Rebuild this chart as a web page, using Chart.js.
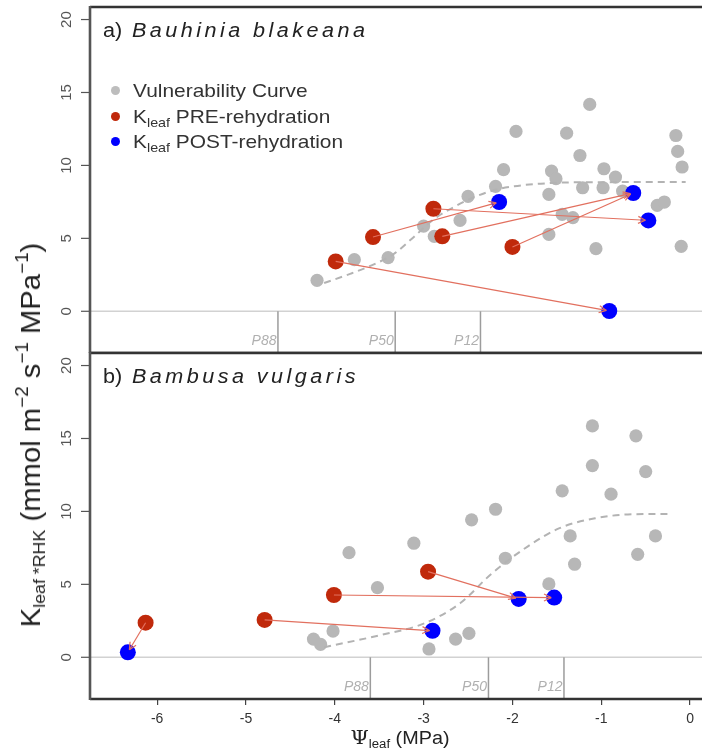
<!DOCTYPE html>
<html>
<head>
<meta charset="utf-8">
<script src="https://cdn.jsdelivr.net/npm/chart.js@4.4.1/dist/chart.umd.min.js"></script>
<style>
  body { margin: 0; background: #fff; }
  #wrap { position: relative; width: 702px; height: 753px; overflow: hidden;
          font-family: "Liberation Sans", Arial, sans-serif; color: #222; }
  canvas { position: absolute; left: 0; }
  #cA { top: 0; }
  #cB { top: 345px; }
  .lbl { position: absolute; white-space: nowrap; line-height: 1; }
  .ttl { font-size: 20px; transform: scaleX(1.08); transform-origin: left center; color: #222; }
  .ttl i { letter-spacing: 3.2px; margin-left: 9px; }
  .leg { font-size: 19px; left: 133px; transform: scaleX(1.1); transform-origin: left center; color: #333; }
  .leg sub { font-size: 13px; position: relative; top: 4px; vertical-align: baseline; }
  .dot { position: absolute; width: 9px; height: 9px; border-radius: 50%; left: 110.5px; }
  #ytitle { left: 31px; top: 435px; font-size: 28px; color: #222;
            transform: translate(-50%, -50%) rotate(-90deg) scaleX(1.045); }
  #ytitle sub { font-size: 17px; position: relative; top: 5px; vertical-align: baseline; }
  #ytitle sup { font-size: 18px; position: relative; top: -12px; vertical-align: baseline; }
  #xtitle { left: 400px; top: 737px; font-size: 18px; color: #222;
            transform: translate(-50%, -50%) scaleX(1.1); }
  #xtitle .psi { font-family: "DejaVu Serif", "Liberation Serif", serif; font-size: 19px; }
  #xtitle sub { font-size: 12px; position: relative; top: 4px; vertical-align: baseline; }
</style>
</head>
<body>
<div id="wrap">
  <canvas id="cA" width="702" height="353"></canvas>
  <canvas id="cB" width="702" height="408"></canvas>

  <div class="lbl ttl" style="left:103px; top:20px;">a)<i>Bauhinia blakeana</i></div>
  <div class="lbl ttl" style="left:103px; top:366px;">b)<i>Bambusa vulgaris</i></div>

  <span class="dot" style="top:85.5px; background:#bdbdbd;"></span>
  <span class="dot" style="top:111.5px; background:#c0290b;"></span>
  <span class="dot" style="top:136.5px; background:#0000ff;"></span>
  <div class="lbl leg" style="top:80.5px;">Vulnerability Curve</div>
  <div class="lbl leg" style="top:106.5px;">K<sub>leaf</sub> PRE-rehydration</div>
  <div class="lbl leg" style="top:131.5px;">K<sub>leaf</sub> POST-rehydration</div>

  <div class="lbl" id="ytitle">K<sub>leaf *RHK</sub> (mmol m<sup>−2</sup> s<sup>−1</sup> MPa<sup>−1</sup>)</div>
  <div class="lbl" id="xtitle"><span class="psi">Ψ</span><sub>leaf</sub> (MPa)</div>
</div>

<script>
// ======== DADOS ========
const xMin = -6.756, xMax = 0.134;
const yMin = -2.86, yMax = 20.86;
const xTicks = [-6, -5, -4, -3, -2, -1, 0];
const yTicks = [0, 5, 10, 15, 20];
const pNames = ['P88', 'P50', 'P12'];

// a) Bauhinia blakeana
const vcA_x = [-4.20, -3.78, -3.40, -3.00, -2.88, -2.59, -2.50, -2.19, -2.10, -1.96, -1.59, -1.56, -1.51, -1.59, -1.44, -1.32,
               -1.39, -1.24, -1.13, -1.21, -1.06, -0.98, -0.97, -0.84, -0.76, -0.37, -0.29, -0.16, -0.14, -0.09, -0.10];
const vcA_y = [2.12, 3.54, 3.68, 5.84, 5.14, 6.23, 7.88, 8.56, 9.71, 12.33, 8.01, 9.61, 9.09, 5.27, 6.64, 6.42,
               12.21, 10.68, 14.18, 8.47, 4.29, 8.47, 9.77, 9.20, 8.24, 7.26, 7.49, 12.05, 10.96, 9.89, 4.45];
const curveA_x = [-4.12, -3.82, -3.56, -3.34, -3.11, -2.89, -2.66, -2.44, -2.21, -1.98, -1.68, -1.30, -0.05];
const curveA_y = [1.94, 2.58, 3.22, 3.91, 5.10, 6.29, 7.14, 7.80, 8.30, 8.57, 8.75, 8.84, 8.86];
const preA_x = [-3.99, -3.57, -2.89, -2.79, -2.00];
const preA_y = [3.42, 5.09, 7.03, 5.14, 4.41];
const postA_x = [-2.15, -0.64, -0.47, -0.91];
const postA_y = [7.49, 8.11, 6.23, 0.02];
const fromA = [0, 1, 2, 3, 4];
const toA = [3, 0, 2, 1, 1];
const pA = [-4.64, -3.32, -2.36];

// b) Bambusa vulgaris
const vcB_x = [-4.24, -4.16, -4.02, -3.84, -3.52, -3.11, -2.94, -2.64, -2.49, -2.46, -2.19, -2.08, -1.59, -1.44, -1.35, -1.30,
               -1.10, -1.10, -0.89, -0.61, -0.50, -0.59, -0.39];
const vcB_y = [1.25, 0.89, 1.80, 7.17, 4.77, 7.82, 0.57, 1.25, 1.64, 9.42, 10.15, 6.79, 5.03, 11.41, 8.32, 6.38,
               15.86, 13.14, 11.18, 15.18, 12.73, 7.06, 8.32];
const curveB_x = [-4.12, -3.48, -2.99, -2.59, -2.23, -1.83, -1.47, -1.07, -0.63, -0.21];
const curveB_y = [0.69, 1.53, 2.33, 3.70, 5.76, 7.59, 8.85, 9.53, 9.81, 9.83];
const preB_x = [-6.13, -4.79, -4.01, -2.95];
const preB_y = [2.37, 2.56, 4.27, 5.87];
const postB_x = [-6.33, -2.90, -1.93, -1.53];
const postB_y = [0.34, 1.82, 4.00, 4.09];
const fromB = [0, 1, 2, 3];
const toB = [0, 1, 3, 2];
const pB = [-3.60, -2.27, -1.42];

const FONT = '"Liberation Sans", Arial, sans-serif';

function pts(xs, ys) {
  return xs.map((v, i) => ({ x: v, y: ys[i] }));
}

function line(ctx, x1, y1, x2, y2) {
  ctx.beginPath();
  ctx.moveTo(x1, y1);
  ctx.lineTo(x2, y2);
  ctx.stroke();
}

// ======== PLUGIN DO PAINEL ========
const panelPlugin = {
  id: 'panel',
  beforeDatasetsDraw(chart, args, o) {
    const { ctx, chartArea: a } = chart;
    const x = chart.scales.x, y = chart.scales.y;
    const y0 = y.getPixelForValue(0);
    ctx.save();
    ctx.strokeStyle = '#d2d2d2';
    ctx.lineWidth = 1.5;
    line(ctx, a.left, y0, a.right, y0);
    ctx.font = 'italic 14px ' + FONT;
    ctx.textAlign = 'right';
    ctx.fillStyle = '#b0b0b0';
    o.pVals.forEach((v, i) => {
      const px = x.getPixelForValue(v);
      ctx.strokeStyle = '#9c9c9c';
      ctx.lineWidth = 1.5;
      line(ctx, px, y0, px, a.bottom);
      ctx.fillText(pNames[i], px - 1.5, a.bottom - 8);
    });
    ctx.restore();
  },
  afterDatasetsDraw(chart, args, o) {
    const { ctx, chartArea: a } = chart;
    const x = chart.scales.x, y = chart.scales.y;
    ctx.save();
    // setas PRE -> POST
    ctx.strokeStyle = '#e2705f';
    ctx.lineWidth = 1.2;
    o.from.forEach((fi, k) => {
      const ti = o.to[k];
      const x1 = x.getPixelForValue(o.preX[fi]), y1 = y.getPixelForValue(o.preY[fi]);
      let x2 = x.getPixelForValue(o.postX[ti]), y2 = y.getPixelForValue(o.postY[ti]);
      const ang = Math.atan2(y2 - y1, x2 - x1);
      x2 -= 3 * Math.cos(ang);
      y2 -= 3 * Math.sin(ang);
      line(ctx, x1, y1, x2, y2);
      const h = 8, s = 0.45;
      line(ctx, x2, y2, x2 - h * Math.cos(ang - s), y2 - h * Math.sin(ang - s));
      line(ctx, x2, y2, x2 - h * Math.cos(ang + s), y2 - h * Math.sin(ang + s));
    });
    // moldura
    ctx.strokeStyle = '#333';
    ctx.lineWidth = 2.4;
    line(ctx, a.left, a.top, a.right, a.top);
    line(ctx, a.left, a.bottom, a.right, a.bottom);
    ctx.strokeStyle = '#555';
    ctx.lineWidth = 2.6;
    line(ctx, a.left, a.top - 1, a.left, a.bottom + 1);
    // ticks do eixo y (rotacionados, como no R)
    ctx.strokeStyle = '#555';
    ctx.lineWidth = 1.2;
    ctx.fillStyle = '#555';
    ctx.font = '15px ' + FONT;
    ctx.textAlign = 'center';
    ctx.textBaseline = 'middle';
    yTicks.forEach(v => {
      const py = y.getPixelForValue(v);
      line(ctx, a.left - 9, py, a.left, py);
      ctx.save();
      ctx.translate(67, py);
      ctx.rotate(-Math.PI / 2);
      ctx.fillText(String(v), 0, 0);
      ctx.restore();
    });
    ctx.restore();
  }
};

function criarPainel(id, d, bottom) {
  return new Chart(document.getElementById(id), {
    type: 'scatter',
    data: {
      datasets: [
        { data: pts(d.vcX, d.vcY), backgroundColor: '#b7b7b7', pointRadius: 6.6, borderWidth: 0, order: 4 },
        { data: pts(d.cX, d.cY), showLine: true, borderColor: '#b3b3b3', borderWidth: 2, borderDash: [7, 5],
          pointRadius: 0, tension: 0.4, cubicInterpolationMode: 'monotone', order: 3 },
        { data: pts(d.preX, d.preY), backgroundColor: '#c0290b', pointRadius: 8, borderWidth: 0, order: 2 },
        { data: pts(d.postX, d.postY), backgroundColor: '#0000ff', pointRadius: 8, borderWidth: 0, order: 1 }
      ]
    },
    options: {
      responsive: false,
      animation: false,
      devicePixelRatio: 1,
      layout: { autoPadding: false, padding: { top: bottom ? 8 : 7, left: 0, right: 0, bottom: 0 } },
      plugins: {
        legend: { display: false },
        tooltip: { enabled: false },
        panel: { pVals: d.pVals, from: d.from, to: d.to, preX: d.preX, preY: d.preY, postX: d.postX, postY: d.postY }
      },
      scales: {
        x: {
          type: 'linear', min: xMin, max: xMax, display: bottom,
          grid: { display: true, drawOnChartArea: false, drawTicks: true, tickLength: 6, color: '#444', lineWidth: 1.2 },
          border: { display: false },
          afterBuildTicks: s => { s.ticks = xTicks.map(v => ({ value: v })); },
          ticks: { padding: 6, color: '#333', font: { size: 14, family: FONT }, maxRotation: 0, autoSkip: false },
          afterFit: s => { s.height = bottom ? 54 : 0; }
        },
        y: {
          type: 'linear', min: yMin, max: yMax,
          grid: { display: false },
          border: { display: false },
          ticks: { display: false },
          afterFit: s => { s.width = 90; }
        }
      }
    },
    plugins: [panelPlugin]
  });
}

criarPainel('cA', {
  vcX: vcA_x, vcY: vcA_y, cX: curveA_x, cY: curveA_y,
  preX: preA_x, preY: preA_y, postX: postA_x, postY: postA_y,
  from: fromA, to: toA, pVals: pA
}, false);

criarPainel('cB', {
  vcX: vcB_x, vcY: vcB_y, cX: curveB_x, cY: curveB_y,
  preX: preB_x, preY: preB_y, postX: postB_x, postY: postB_y,
  from: fromB, to: toB, pVals: pB
}, true);
</script>
</body>
</html>
